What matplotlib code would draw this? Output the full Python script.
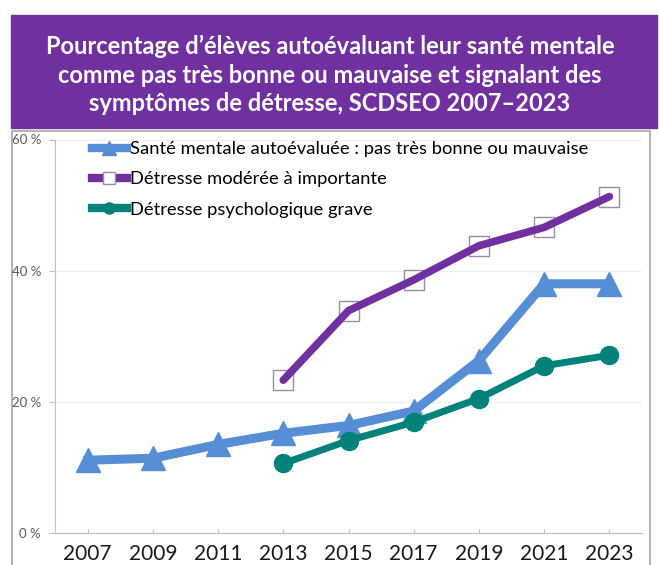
import matplotlib
matplotlib.use("Agg")
import matplotlib.pyplot as plt
from matplotlib.lines import Line2D
from matplotlib.patches import Rectangle

# Data (percent of students)
years = ["2007", "2009", "2011", "2013", "2015", "2017", "2019", "2021", "2023"]
sante_mentale = [11.1, 11.4, 13.5, 15.2, 16.4, 18.6, 26.3, 38.0, 38.0]
detresse_moderee = [None, None, None, 23.3, 33.9, 38.6, 43.8, 46.6, 51.3]
detresse_grave = [None, None, None, 10.6, 14.1, 16.9, 20.5, 25.5, 27.1]

labels = [
    "Santé mentale autoévaluée : pas très bonne ou mauvaise",
    "Détresse modérée à importante",
    "Détresse psychologique grave",
]
title = ("Pourcentage d’élèves autoévaluant leur santé mentale\n"
         "comme pas très bonne ou mauvaise et signalant des\n"
         "symptômes de détresse, SCDSEO 2007–2023")

BLUE = "#558ed5"
PURPLE = "#7030a0"
TEAL = "#00827a"

plt.rcParams["font.family"] = ["Lato", "DejaVu Sans"]

W, H = 659, 565
fig = plt.figure(figsize=(W / 100, H / 100), dpi=100)

# purple title banner and grey chart frame (pixel coords -> figure coords)
fig.patches.append(Rectangle((11 / W, 1 - 128 / H), 646 / W, 113 / H,
                             transform=fig.transFigure, color="#7030a0", zorder=-2))
fig.patches.append(Rectangle((12 / W, -0.05), 638 / W, 1 - 131 / H + 0.05,
                             transform=fig.transFigure, facecolor="white",
                             edgecolor="#a6a6a6", linewidth=1.2, zorder=-2))
fig.text(330 / W, 1 - 75 / H, title, color="white", fontsize=17, fontweight="bold",
         ha="center", va="center", linespacing=1.3)

ax = fig.add_axes([55 / W, 1 - 533 / H, 587 / W, 393.5 / H])
ax.set_facecolor("none")
x = list(range(len(years)))


def valid(values):
    pts = [(i, v) for i, v in zip(x, values) if v is not None]
    return [p[0] for p in pts], [p[1] for p in pts]


xs, ys = valid(sante_mentale)
ax.plot(xs, ys, color=BLUE, lw=6.5, marker="^", ms=17, zorder=3)

xs, ys = valid(detresse_moderee)
ax.plot(xs, ys, ls="none", marker="s", ms=14, mfc="white", mec="#9a8ca4", mew=1.0, zorder=4)
ax.plot(xs, ys, color=PURPLE, lw=5.5, solid_capstyle="round", zorder=5)

xs, ys = valid(detresse_grave)
ax.plot(xs, ys, color=TEAL, lw=5, marker="o", ms=13, zorder=3)

ax.set_xlim(-0.5, len(years) - 0.5)
ax.set_ylim(0, 60)
ax.set_xticks(x)
ax.set_xticklabels(years, fontsize=15, color="#1a1a1a")
ax.set_yticks([0, 20, 40, 60])
ax.set_yticklabels(["0 %", "20 %", "40 %", "60 %"], fontsize=9.5, color="#595959")
ax.tick_params(axis="x", direction="in", length=3, color="#bfbfbf", pad=8)
ax.tick_params(axis="y", direction="out", length=4, color="#bfbfbf", pad=6)
ax.grid(axis="y", color="#eeeeee", lw=0.8)
ax.set_axisbelow(True)
for side in ["top", "right"]:
    ax.spines[side].set_visible(False)
for side in ["left", "bottom"]:
    ax.spines[side].set_color("#bfbfbf")

handles = [
    Line2D([], [], color=BLUE, lw=6, marker="^", ms=10),
    Line2D([], [], color=PURPLE, lw=6, marker="s", ms=8, mfc="white", mec="#9a8ca4"),
    Line2D([], [], color=TEAL, lw=6, marker="o", ms=8),
]
fig.legend(handles, labels, loc="upper left", bbox_to_anchor=(92 / W, 1 - 141 / H),
           frameon=False, fontsize=13.2, handlelength=1.9, handletextpad=0.2,
           labelspacing=0.78, borderaxespad=0, borderpad=0)

fig.savefig("out.png", dpi=100)
